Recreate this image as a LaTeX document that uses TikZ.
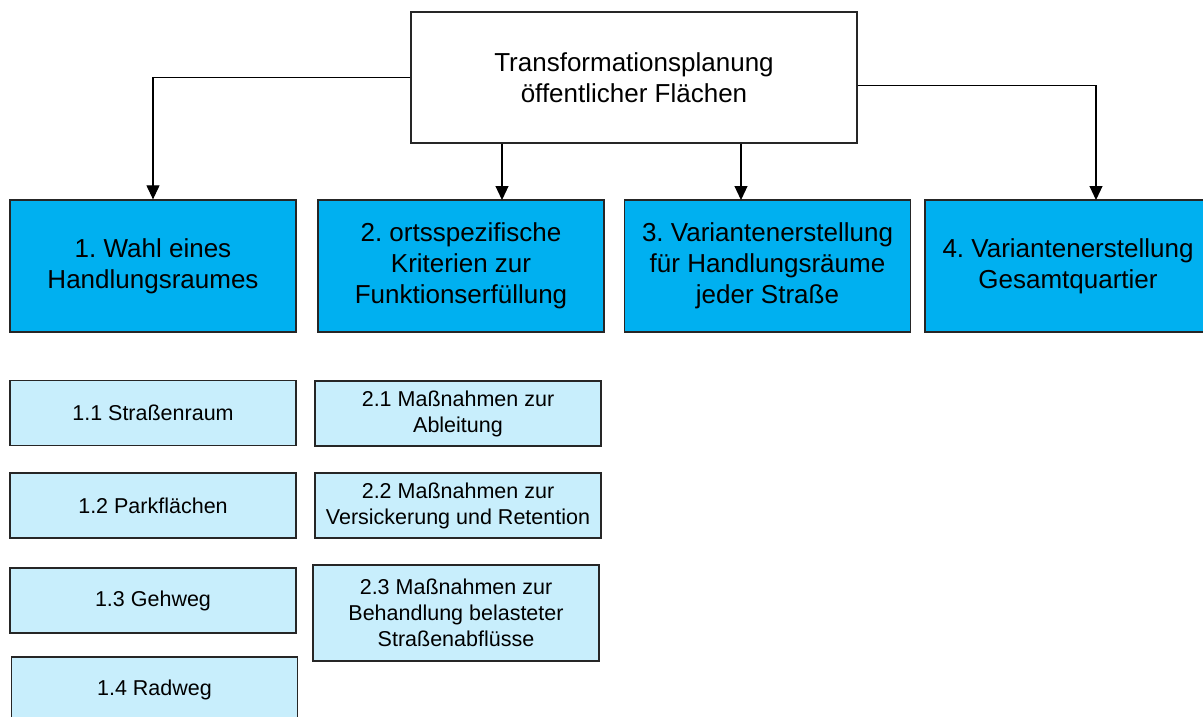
\documentclass[tikz,border=0pt]{standalone}
\usepackage{fontspec}
\setmainfont{Liberation Sans}
\usetikzlibrary{arrows.meta}
\definecolor{mainblue}{RGB}{0,176,240}
\definecolor{subblue}{RGB}{200,238,252}
\frenchspacing

\begin{document}
\begin{tikzpicture}[x=1pt,y=-1pt,
  box/.style={draw=black!85,line width=1.3pt,inner sep=0pt,align=center},
  topbox/.style={box,fill=white,minimum width=446pt,minimum height=131pt,font=\fontsize{26}{31}\selectfont},
  headbox/.style={box,fill=mainblue,minimum width=286pt,minimum height=132pt,font=\fontsize{26}{31}\selectfont},
  subbox/.style={box,fill=subblue,minimum width=286pt,minimum height=65pt,font=\fontsize{21.5}{26}\selectfont},
  arr/.style={line width=1.1pt,-{Triangle[length=14pt,width=13pt]}}]
  % Frame
  \clip (0,0) rectangle (1203,716);
  \fill[white] (0,0) rectangle (1203,716);

  % Top
  \node[topbox] (top) at (634,77.5) {Transformationsplanung\\öffentlicher Flächen};

  % Main steps
  \node[headbox] (b1) at (153,266) {1. Wahl eines\\Handlungsraumes};
  \node[headbox] (b2) at (461,266) {2. ortsspezifische\\Kriterien zur\\Funktionserfüllung};
  \node[headbox] (b3) at (767.5,266) {3. Variantenerstellung\\für Handlungsräume\\jeder Straße};
  \node[headbox] (b4) at (1068,266) {4. Variantenerstellung\\Gesamtquartier};

  % Sub steps
  \node[subbox] (s11) at (153,413) {1.1 Straßenraum};
  \node[subbox] (s12) at (153,505.5) {1.2 Parkflächen};
  \node[subbox] (s13) at (153,600.5) {1.3 Gehweg};
  \node[subbox] (s14) at (154.5,689.5) {1.4 Radweg};

  \node[subbox] (s21) at (458,413.5) {2.1 Maßnahmen zur\\Ableitung};
  \node[subbox] (s22) at (458,505.5) {2.2 Maßnahmen zur\\Versickerung und Retention};
  \node[subbox,minimum height=96pt] (s23) at (456,613) {2.3 Maßnahmen zur\\Behandlung belasteter\\Straßenabflüsse};

  % Arrows
  \coordinate (a2) at (502,200);
  \coordinate (a3) at (741,200);
  \coordinate (a4) at (1096,200);
  \draw[arr] (top.west) -| (b1.north);
  \draw[arr] (top.south -| a2) -- (a2);
  \draw[arr] (top.south -| a3) -- (a3);
  \draw[arr] ([yshift=-8pt]top.east) -| (a4);
\end{tikzpicture}
\end{document}
